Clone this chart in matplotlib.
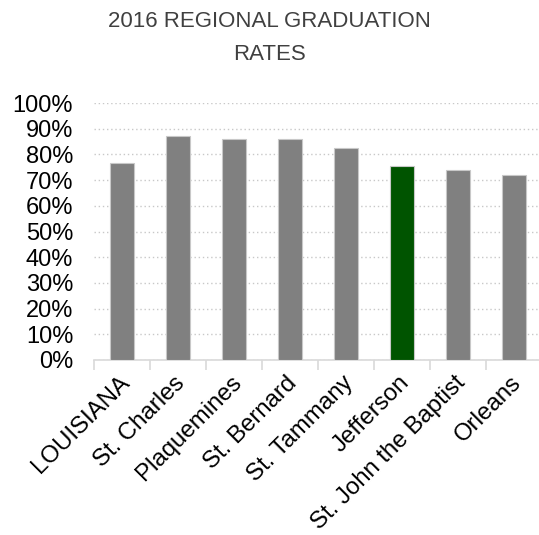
import matplotlib
matplotlib.use('Agg')
import matplotlib.pyplot as plt
import matplotlib.transforms as mtransforms
import numpy as np

plt.rcParams['font.family'] = ['Liberation Sans', 'DejaVu Sans']

parishes = ['LOUISIANA', 'St. Charles', 'Plaquemines', 'St. Bernard', 'St. Tammany',
            'Jefferson', 'St. John the Baptist', 'Orleans']
rates = [0.767, 0.872, 0.859, 0.858, 0.826, 0.755, 0.738, 0.719]
highlight = 'Jefferson'

colors = ['#005400' if p == highlight else '#808080' for p in parishes]

fig = plt.figure(figsize=(5.39, 5.35), dpi=100)
ax = fig.add_axes([94 / 539, 1 - 360 / 535, 448 / 539, 257 / 535])

x = np.arange(len(parishes))
ax.bar(x, rates, width=0.42, color=colors, edgecolor='#c8c8c8', linewidth=0.8, zorder=3)

ax.set_xlim(-0.5, len(parishes) - 0.5)
ax.set_ylim(0, 1)
ax.set_yticks(np.arange(0, 1.01, 0.1))
ax.set_yticklabels(['%d%%' % round(v * 100) for v in np.arange(0, 1.01, 0.1)])
ax.yaxis.grid(True, linestyle=(0, (1, 2)), color='#c8c8c8', linewidth=1, zorder=0)

ax.set_xticks(x)
ax.set_xticklabels(parishes, rotation=45, ha='right', rotation_mode='anchor')
ax.set_xticks(np.arange(-0.5, len(parishes)), minor=True)
ax.tick_params(axis='x', which='major', length=0, pad=10, labelsize=17.3)
ax.tick_params(axis='x', which='minor', length=7, color='#d9d9d9', width=1.2)
ax.tick_params(axis='y', length=0, pad=15, labelsize=17)

# nudge the slanted labels a little to the left
shift = mtransforms.ScaledTranslation(-4 / 100, 2 / 100, fig.dpi_scale_trans)
for lbl in ax.get_xticklabels():
    lbl.set_transform(lbl.get_transform() + shift)

for side in ['left', 'right', 'top']:
    ax.spines[side].set_visible(False)
ax.spines['bottom'].set_color('#d9d9d9')
ax.spines['bottom'].set_linewidth(1.2)

fig.text(0.5, 1 - 38 / 535, '2016 REGIONAL GRADUATION\nRATES', ha='center', va='center',
         fontsize=16, color='#404040', linespacing=1.75)

fig.savefig('out.png', dpi=100)
